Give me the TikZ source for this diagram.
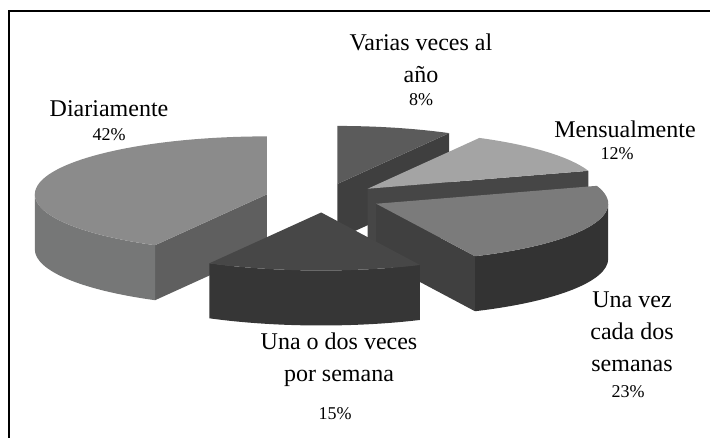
\documentclass[tikz,border=0pt]{standalone}
\usepackage{fontspec}
\setmainfont{Liberation Serif}
\usepackage{tikz}
\usetikzlibrary{calc}
\usepackage{xcolor}

\definecolor{diartop}{HTML}{8B8B8B}
\definecolor{diarwall}{HTML}{767777}
\definecolor{diarcut}{HTML}{5F5F5F}
\definecolor{variastop}{HTML}{5B5B5B}
\definecolor{variascut}{HTML}{3F3F3F}
\definecolor{mensualtop}{HTML}{A4A4A4}
\definecolor{mensualcut}{HTML}{464646}
\definecolor{quincetop}{HTML}{7B7B7B}
\definecolor{quincecut}{HTML}{404040}
\definecolor{quincewall}{HTML}{333333}
\definecolor{semanaltop}{HTML}{474747}
\definecolor{semanalwall}{HTML}{363636}

\begin{document}
\begin{tikzpicture}[x=1pt,y=1pt,
  lbl/.style={font=\fontsize{24}{32}\selectfont, align=center, inner sep=0pt, anchor=base},
  pct/.style={font=\fontsize{18}{22}\selectfont, inner sep=0pt, anchor=base}]

  \useasboundingbox (0,0) rectangle (710,438);

  \pgfmathsetmacro{\rx}{232}
  \pgfmathsetmacro{\ry}{58}
  \pgfmathsetmacro{\depth}{55}
  \pgfmathsetmacro{\ex}{0.25*\rx}
  \pgfmathsetmacro{\ey}{0.25*\ry}

  % frame (only top and left are shown)
  \draw[line width=2pt] (9,0) -- (9,427) -- (710,427);

  % pie centre and the apex of every exploded slice
  \coordinate (c) at (323,240);
  \coordinate (varias) at ($(c)+(75.6:\ex pt and \ey pt)$);
  \coordinate (mensual) at ($(c)+(39.6:\ex pt and \ey pt)$);
  \coordinate (diar) at ($(c)+(165.6:\ex pt and \ey pt)$);
  \coordinate (quince) at ($(c)+(-23.4:\ex pt and \ey pt)$);
  \coordinate (semanal) at ($(c)+(-91.8:\ex pt and \ey pt)$);

  % Varias veces al ano (8%)
  \fill[variascut] (varias) -- ++(61.2:\rx pt and \ry pt) -- ++(0,-\depth) -- ($(varias)+(0,-\depth)$) -- cycle;
  \fill[variastop] (varias) -- ++(61.2:\rx pt and \ry pt)
    arc[start angle=61.2, end angle=90, x radius=\rx pt, y radius=\ry pt] -- cycle;

  % Mensualmente (12%)
  \fill[mensualcut] (mensual) -- ++(18:\rx pt and \ry pt) -- ++(0,-\depth) -- ($(mensual)+(0,-\depth)$) -- cycle;
  \fill[mensualtop] (mensual) -- ++(18:\rx pt and \ry pt)
    arc[start angle=18, end angle=61.2, x radius=\rx pt, y radius=\ry pt] -- cycle;

  % Diariamente (42%)
  \fill[diarcut] (diar) -- ++(241.2:\rx pt and \ry pt) -- ++(0,-\depth) -- ($(diar)+(0,-\depth)$) -- cycle;
  \fill[diarwall] ($(diar)+(180:\rx pt and \ry pt)$)
    arc[start angle=180, end angle=241.2, x radius=\rx pt, y radius=\ry pt] -- ++(0,-\depth)
    arc[start angle=241.2, end angle=180, x radius=\rx pt, y radius=\ry pt] -- cycle;
  \fill[diartop] (diar) -- ++(90:\rx pt and \ry pt)
    arc[start angle=90, end angle=241.2, x radius=\rx pt, y radius=\ry pt] -- cycle;

  % Una vez cada dos semanas (23%)
  \fill[quincecut] (quince) -- ++(-64.8:\rx pt and \ry pt) -- ++(0,-\depth) -- ($(quince)+(0,-\depth)$) -- cycle;
  \fill[quincewall] ($(quince)+(-64.8:\rx pt and \ry pt)$)
    arc[start angle=-64.8, end angle=0, x radius=\rx pt, y radius=\ry pt] -- ++(0,-\depth)
    arc[start angle=0, end angle=-64.8, x radius=\rx pt, y radius=\ry pt] -- cycle;
  \fill[quincetop] (quince) -- ++(-64.8:\rx pt and \ry pt)
    arc[start angle=-64.8, end angle=18, x radius=\rx pt, y radius=\ry pt] -- cycle;

  % Una o dos veces por semana (15%)
  \fill[semanalwall] ($(semanal)+(-118.8:\rx pt and \ry pt)$)
    arc[start angle=-118.8, end angle=-64.8, x radius=\rx pt, y radius=\ry pt] -- ++(0,-\depth)
    arc[start angle=-64.8, end angle=-118.8, x radius=\rx pt, y radius=\ry pt] -- cycle;
  \fill[semanaltop] (semanal) -- ++(-118.8:\rx pt and \ry pt)
    arc[start angle=-118.8, end angle=-64.8, x radius=\rx pt, y radius=\ry pt] -- cycle;

  % labels (base = last line)
  \node[lbl] (variaslbl) at (421,355) {Varias veces al\\año};
  \node[pct] (variaspct) at (421,332) {8\%};
  \node[lbl] (mensuallbl) at (625,300) {Mensualmente};
  \node[pct] (mensualpct) at (617,278) {12\%};
  \node[lbl] (diarlbl) at (109,321) {Diariamente};
  \node[pct] (diarpct) at (109,297) {42\%};
  \node[lbl] (quincelbl) at (632,66) {Una vez\\cada dos\\semanas};
  \node[pct] (quincepct) at (628,40) {23\%};
  \node[lbl] (semanallbl) at (339,56) {Una o dos veces\\por semana};
  \node[pct] (semanalpct) at (335,18) {15\%};

\end{tikzpicture}
\end{document}
